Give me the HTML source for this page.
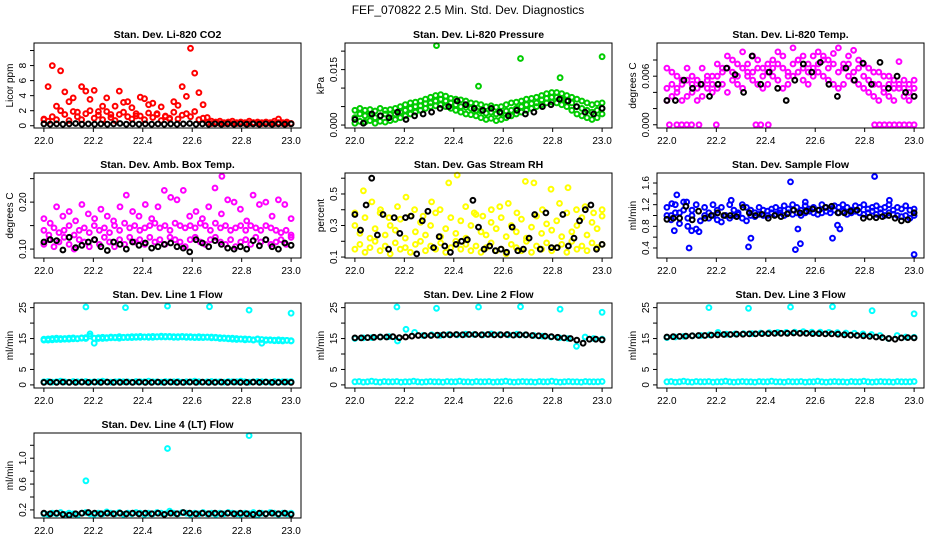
<!DOCTYPE html>
<html><head><meta charset="utf-8">
<style>
html,body{margin:0;padding:0;background:#fff;}
svg{display:block;font-family:"Liberation Sans",sans-serif;}
</style></head>
<body>
<svg id="chart" width="936" height="540" viewBox="0 0 936 540">
<rect x="0" y="0" width="936" height="540" fill="#fff"/>
<text x="468" y="14" text-anchor="middle" font-size="12">FEF_070822  2.5 Min. Std. Dev. Diagnostics</text>
</svg>
<script>
// ---- data ----
const xTicks = [22.0, 22.2, 22.4, 22.6, 22.8, 23.0];
const xTickLabels = ["22.0","22.2","22.4","22.6","22.8","23.0"];

const co2Hi = [0.8,5.2,8.0,2.6,7.3,4.5,3.2,3.7,1.8,5.2, 4.6,3.5,4.7,1.9,2.6,3.7,1.5,2.6,4.6,3.1, 3.2,2.4,1.3,3.8,3.6,2.8,3.0,1.6,2.5,1.2, 0.9,3.2,2.7,5.2,3.9,10.3,7.0,4.4,2.8,1.1, 0.6,0.5,0.6,0.4,0.5,0.6,0.4,0.5,0.4,0.6, 0.4,0.5,0.4,0.5,0.4,0.6,0.9,0.4,0.5,0.3];
const co2Lo = [0.9,0.6,1.2,0.8,2.0,1.5,0.7,1.9,1.2,0.8, 1.6,2.0,1.0,1.4,0.8,1.9,1.1,0.7,1.5,1.8, 1.2,0.9,1.6,1.3,0.8,1.7,1.1,1.5,0.7,1.3, 1.0,1.8,0.9,1.4,1.6,1.2,1.9,0.8,1.0,0.4, 0.3,0.4,0.3,0.3,0.4,0.3,0.3,0.4,0.3,0.3, 0.4,0.3,0.3,0.4,0.3,0.3,0.4,0.3,0.3,0.3];
const co2Blk = [0.25,0.2,0.25,0.2,0.25,0.3,0.2,0.25,0.2,0.25, 0.2,0.25,0.3,0.2,0.25,0.2,0.25,0.2,0.25,0.2, 0.25,0.2,0.25,0.3,0.2,0.25,0.2,0.25,0.2,0.25, 0.2,0.25,0.2,0.25,0.2,0.25,0.2,0.25,0.2,0.25];

const pressLo = [0.0005,0.001,0.0008,0.0012,0.0005,0.001,0.0008,0.0012,0.0015,0.002, 0.0025,0.003,0.0035,0.004,0.0045,0.005,0.0052,0.0055,0.005,0.0045, 0.004,0.0035,0.003,0.0028,0.0025,0.002,0.0015,0.0018,0.0012,0.0015, 0.002,0.0025,0.003,0.0035,0.004,0.0045,0.005,0.0055,0.006,0.0062, 0.006,0.0055,0.005,0.004,0.003,0.0025,0.002,0.0015,0.002,0.003];
const pressMid = [0.002,0.003,0.0025,0.0028,0.002,0.0025,0.003,0.0028,0.003,0.0035, 0.004,0.0045,0.005,0.0052,0.0058,0.006,0.0065,0.007,0.0065,0.006, 0.0055,0.005,0.0048,0.0045,0.004,0.0038,0.0032,0.0035,0.003,0.0032, 0.0038,0.004,0.0045,0.005,0.0055,0.0058,0.006,0.0068,0.0072,0.0075, 0.0075,0.007,0.0065,0.006,0.005,0.0045,0.004,0.0035,0.004,0.0045];
const pressHi = [0.004,0.0045,0.004,0.0042,0.0038,0.0045,0.004,0.0042,0.0045,0.005, 0.0055,0.006,0.0062,0.0065,0.007,0.0075,0.008,0.0082,0.0078,0.0072, 0.007,0.0068,0.0065,0.006,0.0058,0.0055,0.005,0.0052,0.0048,0.005, 0.0055,0.006,0.0062,0.0065,0.007,0.0072,0.0075,0.008,0.0085,0.0088, 0.0088,0.0085,0.008,0.0075,0.007,0.0065,0.006,0.0055,0.0058,0.006];
const pressBlk = [0.0015,0.0005,0.003,0.0025,0.002,0.0035,0.0015,0.0025,0.003,0.0035, 0.0045,0.005,0.0065,0.0055,0.0045,0.004,0.0045,0.0035,0.0025,0.004, 0.003,0.0035,0.005,0.0055,0.007,0.0065,0.005,0.0035,0.003,0.0045];
const pressOutT = [22.33,22.5,22.67,22.83,23.0];
const pressOutV = [0.0215,0.0105,0.018,0.0128,0.0185];

const tempTop = [0.007,0.0065,0.006,0.0055,0.007,0.006,0.0055,0.007,0.006,0.005, 0.0075,0.007,0.0085,0.008,0.0075,0.009,0.0065,0.0085,0.008,0.007, 0.0075,0.008,0.009,0.0085,0.0065,0.0095,0.008,0.0085,0.0075,0.0085, 0.009,0.0085,0.008,0.0088,0.0095,0.0075,0.0085,0.0092,0.008,0.0075, 0.007,0.0065,0.0065,0.006,0.006,0.0055,0.0078,0.0055,0.005,0.0055];
const tempMid = [0.0045,0.005,0.0045,0.005,0.0055,0.005,0.0045,0.005,0.0055,0.006, 0.006,0.0065,0.007,0.0065,0.006,0.007,0.0075,0.0065,0.007,0.006, 0.0065,0.007,0.0075,0.007,0.006,0.0075,0.008,0.007,0.0065,0.007, 0.0075,0.008,0.007,0.0075,0.0065,0.007,0.0075,0.0065,0.007,0.006, 0.0055,0.005,0.005,0.0045,0.005,0.0045,0.005,0.0045,0.004,0.0045];
const tempBot = [0.003,0.0035,0.004,0.003,0.0035,0.004,0.003,0.0035,0.0045,0.004, 0.0045,0.005,0.004,0.0055,0.005,0.0045,0.006,0.0055,0.005,0.0045, 0.005,0.006,0.0055,0.0045,0.005,0.006,0.0065,0.0055,0.005,0.006, 0.0065,0.006,0.0055,0.005,0.0045,0.005,0.006,0.0055,0.005,0.0045, 0.004,0.0035,0.003,0.004,0.0035,0.003,0.0045,0.0035,0.003,0.0035];
const tempZeroT = [22.01,22.04,22.06,22.08,22.1,22.13,22.2,22.36,22.38,22.41,22.84,22.86,22.88,22.9,22.92,22.94,22.96,22.98,23.0];
const tempZeroV = [0,0,0,0,0,0,0,0,0,0,0,0,0,0,0,0,0,0,0];
const tempBlk = [0.003,0.003,0.0055,0.0045,0.005,0.0035,0.005,0.007,0.0062,0.004, 0.0085,0.005,0.0065,0.0045,0.003,0.0055,0.0075,0.0065,0.0077,0.005, 0.0035,0.007,0.0055,0.0076,0.005,0.0077,0.0045,0.006,0.004,0.0035];

const ambA = [0.14,0.13,0.145,0.135,0.14,0.15,0.13,0.14,0.145,0.135, 0.15,0.14,0.145,0.135,0.15,0.14,0.155,0.145,0.15,0.14, 0.145,0.15,0.155,0.145,0.15,0.14,0.155,0.15,0.145,0.15, 0.145,0.155,0.15,0.14,0.155,0.145,0.15,0.14,0.145,0.15, 0.14,0.15,0.145,0.14,0.15,0.145,0.14,0.135,0.14,0.13];
const ambB = [0.11,0.12,0.105,0.115,0.125,0.11,0.1,0.12,0.115,0.105, 0.12,0.11,0.125,0.115,0.105,0.12,0.11,0.125,0.115,0.12, 0.11,0.125,0.115,0.12,0.11,0.125,0.12,0.115,0.105,0.12, 0.125,0.115,0.11,0.12,0.125,0.115,0.11,0.12,0.105,0.115, 0.12,0.11,0.125,0.115,0.12,0.11,0.115,0.12,0.11,0.125];
const ambC = [0.165,0.155,0.19,0.17,0.18,0.16,0.195,0.175,0.165,0.185, 0.17,0.16,0.19,0.215,0.18,0.17,0.195,0.165,0.19,0.225, 0.21,0.205,0.225,0.17,0.18,0.165,0.19,0.23,0.175,0.205, 0.2,0.185,0.16,0.215,0.195,0.2,0.17,0.205,0.195,0.165];
const ambOutT = [22.72];
const ambOutV = [0.255];
const ambBlk = [0.115,0.12,0.118,0.098,0.125,0.103,0.108,0.115,0.12,0.105, 0.097,0.115,0.11,0.1,0.115,0.108,0.113,0.102,0.105,0.11, 0.113,0.105,0.102,0.094,0.12,0.113,0.105,0.118,0.11,0.102, 0.1,0.105,0.1,0.118,0.107,0.12,0.105,0.1,0.113,0.108];

const rhA = [0.15,0.18,0.13,0.16,0.2,0.14,0.17,0.12,0.19,0.15, 0.16,0.13,0.18,0.2,0.14,0.17,0.15,0.19,0.13,0.16, 0.2,0.15,0.18,0.14,0.17,0.13,0.16,0.19,0.14,0.15, 0.12,0.18,0.16,0.14,0.2,0.13,0.17,0.15,0.19,0.14, 0.16,0.18,0.13,0.2,0.15,0.17,0.14,0.19,0.16,0.18];
const rhB = [0.3,0.25,0.35,0.22,0.28,0.38,0.24,0.3,0.27,0.34, 0.22,0.36,0.26,0.32,0.24,0.3,0.38,0.23,0.28,0.35, 0.25,0.33,0.22,0.3,0.37,0.26,0.24,0.32,0.28,0.35, 0.23,0.3,0.26,0.34,0.22,0.29,0.36,0.25,0.31,0.27, 0.33,0.23,0.38,0.26,0.3,0.35,0.24,0.32,0.28,0.36];
const rhC = [0.38,0.52,0.45,0.4,0.35,0.42,0.48,0.4,0.36,0.45, 0.4,0.57,0.62,0.42,0.38,0.36,0.4,0.42,0.44,0.38, 0.58,0.57,0.4,0.53,0.44,0.54,0.4,0.42,0.38,0.4];
const rhBlk = [0.37,0.27,0.43,0.6,0.24,0.37,0.15,0.35,0.25,0.35, 0.36,0.12,0.33,0.39,0.16,0.23,0.17,0.13,0.18,0.2, 0.21,0.46,0.29,0.15,0.17,0.14,0.15,0.13,0.29,0.14, 0.15,0.22,0.37,0.15,0.38,0.16,0.16,0.37,0.17,0.22, 0.33,0.4,0.43,0.15,0.18];

const flowA = [1.15,1.0,1.2,1.05,1.25,0.95,1.1,1.2,0.9,1.15, 1.05,1.2,1.1,1.15,1.0,1.2,1.1,1.05,1.2,1.15, 1.1,1.05,1.15,1.1,1.08,1.12,1.15,1.1,1.18,1.12, 1.2,1.15,1.1,1.18,1.12,1.15,1.1,1.2,1.15,1.12, 1.18,1.15,1.2,1.15,1.1,1.18,1.15,1.2,1.12,1.15, 1.18,1.12,1.15,1.2,1.1,1.15,1.12,1.18,1.1,1.12];
const flowB = [1.0,0.92,1.05,0.85,1.1,0.8,1.0,0.75,0.9,1.0, 0.95,1.0,0.92,0.88,1.0,0.95,1.0,1.02,0.95,0.9, 1.0,0.98,1.02,1.0,1.0,1.05,1.02,1.05,1.0,1.05, 1.02,1.05,1.0,1.05,1.08,1.05,1.02,1.05,1.08,1.05, 1.1,1.05,1.08,1.02,1.05,1.08,1.05,1.02,1.05,1.08, 1.02,1.05,1.0,1.05,1.02,1.0,0.98,1.0,0.95,1.0];
const flowOutT = [22.02,22.03,22.04,22.09,22.08,22.1,22.13,22.26,22.33,22.34,22.5,22.52,22.53,22.54,22.56,22.67,22.69,22.7,22.84,22.9,23.0];
const flowOutV = [1.22,0.72,1.38,0.4,1.25,0.72,0.7,1.28,0.42,0.58,1.62,0.37,0.75,0.48,1.25,0.58,0.82,0.75,1.72,1.28,0.28];
const flowBlk = [0.93,0.95,0.95,1.17,0.92,1.08,0.95,1.0,1.05,1.0, 1.0,0.98,1.15,1.05,1.0,1.02,0.95,1.0,0.98,1.03, 1.1,1.05,1.08,1.12,1.1,1.15,1.17,1.05,1.05,1.08, 1.1,0.95,0.97,0.96,0.98,1.0,0.95,0.9,0.92,1.05];

const l1Band = [14.8,14.5,15.0,14.7,15.0,14.8,15.1,14.9,15.0,15.2, 15.0,16.5,13.5,15.3,15.0,15.3,15.2,15.4,15.1,15.3, 15.5,15.3,15.6,15.4,15.5,15.6,15.4,15.6,15.5,15.7, 15.5,15.6,15.4,15.5,15.6,15.4,15.5,15.3,15.5,15.4, 15.5,15.2,15.3,15.0,15.1,14.8,15.0,14.8,14.9,14.7, 14.6,14.8,13.5,14.6,14.4,14.5,14.3,14.5,14.4,14.3];
const l1Band2 = [14.5,14.9,14.6,15.1,14.7,15.0,14.8,15.2,14.9,15.1, 15.3,15.8,15.1,15.0,15.4,15.1,15.5,15.2,15.6,15.4, 15.3,15.6,15.4,15.7,15.5,15.4,15.7,15.5,15.8,15.5, 15.7,15.4,15.6,15.7,15.4,15.6,15.3,15.6,15.3,15.5, 15.2,15.4,15.0,15.2,14.9,15.1,14.7,14.9,14.6,14.8, 14.5,14.9,14.7,14.4,14.6,14.3,14.6,14.2,14.4,14.2];
const l1Low = [1.0,1.1,0.9,1.0,1.2,1.0,0.9,1.1,1.0,1.0, 1.1,0.9,1.0,1.0,1.2,1.0,0.9,1.0,1.1,1.0, 1.0,0.9,1.1,1.0,1.0,1.2,1.0,1.0,0.9,1.1, 1.0,1.0,1.1,0.9,1.0,1.0,1.2,1.0,0.9,1.0, 1.1,1.0,1.0,0.9,1.1,1.0,1.0,1.2,1.0,0.9, 1.0,1.1,1.0,1.0,0.9,1.1,1.0,1.0,1.0,1.1];
const l1Blk = [0.8,0.9,0.8,0.9,0.8,0.8,0.9,0.8,0.9,0.8, 0.9,0.8,0.8,0.9,0.8,0.9,0.8,0.8,0.9,0.8, 0.9,0.8,0.8,0.9,0.8,0.9,0.8,0.8,0.9,0.8, 0.9,0.8,0.8,0.9,0.8,0.9,0.8,0.8,0.9,0.8];
const l1OutT = [22.17,22.33,22.5,22.67,22.83,23.0];
const l1OutV = [25.2,25.0,25.5,25.3,24.2,23.2];

const l2Low = [1.0,1.1,0.9,1.0,1.2,1.0,0.9,1.1,1.0,1.0, 1.1,0.9,1.0,1.0,1.2,1.0,0.9,1.0,1.1,1.0, 1.0,0.9,1.1,1.0,1.0,1.2,1.0,1.0,0.9,1.1, 1.0,1.0,1.1,0.9,1.0,1.0,1.2,1.0,0.9,1.0, 1.1,1.0,1.0,0.9,1.1,1.0,1.0,1.2,1.0,0.9, 1.0,1.1,1.0,1.0,0.9,1.1,1.0,1.0,1.0,1.1];
const l2Cy = [15.0,15.2,15.3,15.5,15.6,14.2,18.0,17.0,16.0,16.2, 16.0,16.3,16.2,16.4,16.3,16.2,16.5,16.3,16.2,16.4, 16.2,16.0,15.8,15.5,15.2,15.0,12.5,15.5,15.0,14.8];
const l2Blk = [15.2,15.2,15.3,15.4,15.5,15.5,15.6,15.3,15.5,15.8, 16.0,16.0,16.0,16.1,16.2,16.2,16.3,16.2,16.3,16.3, 16.2,16.3,16.2,16.2,16.3,16.1,16.2,16.2,16.0,15.9, 15.8,15.6,15.4,15.2,15.0,14.5,13.5,14.8,14.8,14.6];
const l2OutT = [22.17,22.33,22.5,22.67,22.83,23.0];
const l2OutV = [25.2,24.8,25.2,25.3,24.5,23.5];

const l3Low = [1.0,1.1,0.9,1.0,1.2,1.0,0.9,1.1,1.0,1.0, 1.1,0.9,1.0,1.0,1.2,1.0,0.9,1.0,1.1,1.0, 1.0,0.9,1.1,1.0,1.0,1.2,1.0,1.0,0.9,1.1, 1.0,1.0,1.1,0.9,1.0,1.0,1.2,1.0,0.9,1.0, 1.1,1.0,1.0,0.9,1.1,1.0,1.0,1.2,1.0,0.9, 1.0,1.1,1.0,1.0,0.9,1.1,1.0,1.0,1.0,1.1];
const l3Cy = [15.3,15.5,15.7,15.9,16.0,16.2,17.0,16.4,16.5,16.6, 16.6,16.8,16.9,17.0,17.0,17.1,17.2,17.1,17.1,17.0, 16.9,16.8,16.7,16.5,16.3,16.0,15.0,16.0,15.5,15.4];
const l3Blk = [15.5,15.6,15.7,15.8,15.9,16.0,16.0,16.1,16.2,16.3, 16.3,16.4,16.4,16.5,16.5,16.6,16.6,16.7,16.7,16.7, 16.8,16.7,16.7,16.6,16.6,16.5,16.5,16.4,16.2,16.1, 16.0,15.9,15.7,15.5,15.3,15.0,14.8,15.2,15.3,15.2];
const l3OutT = [22.17,22.33,22.5,22.67,22.83,23.0];
const l3OutV = [25.0,24.8,25.2,25.3,24.0,23.0];

const l4Cy = [0.14,0.13,0.15,0.14,0.16,0.13,0.15,0.14,0.12,0.15, 0.16,0.14,0.13,0.15,0.14,0.17,0.15,0.14,0.16,0.13, 0.15,0.14,0.16,0.15,0.13,0.15,0.14,0.16,0.15,0.14, 0.18,0.15,0.14,0.16,0.15,0.13,0.15,0.14,0.16,0.14, 0.15,0.13,0.15,0.14,0.16,0.15,0.14,0.13,0.15,0.14, 0.16,0.12,0.15,0.14,0.16,0.15,0.13,0.15,0.14,0.15];
const l4Blk = [0.15,0.14,0.15,0.13,0.12,0.14,0.15,0.16,0.15,0.14, 0.15,0.14,0.15,0.14,0.15,0.14,0.15,0.14,0.15,0.13, 0.15,0.14,0.16,0.15,0.14,0.15,0.14,0.15,0.14,0.15, 0.14,0.15,0.14,0.13,0.15,0.14,0.15,0.14,0.15,0.13];
const l4OutT = [22.17,22.5,22.83];
const l4OutV = [0.65,1.15,1.35];

// ---- rendering ----
const NS = "http://www.w3.org/2000/svg";
const svg = document.getElementById("chart");
const colL = [34, 345, 657], rowT = [43, 173, 303, 433], PW = 267, PH = 85;
const XMIN = 21.96, XMAX = 23.04;

function mk(tag, attrs, parent) {
  const e = document.createElementNS(NS, tag);
  for (const k in attrs) e.setAttribute(k, attrs[k]);
  parent.appendChild(e);
  return e;
}
function even(arr) { // times of evenly spaced samples over the hour 22.0-23.0
  const t = []; const n = arr.length;
  for (let i = 0; i < n; i++) t.push(22 + (n > 1 ? i / (n - 1) : 0));
  return t;
}

const panels = [
  {name:"co2", title:"Stan. Dev. Li-820 CO2", ylab:"Licor ppm", r:0, c:0, dom:[-0.3,11.0],
   ticks:[0,2,4,6,8,10], labels:["0","2","4","6","8",""],
   series:[{v:co2Lo,c:"#ff0000"},{v:co2Hi,c:"#ff0000"},{v:co2Blk,c:"#000"}]},
  {name:"pressure", title:"Stan. Dev. Li-820 Pressure", ylab:"kPa", r:0, c:1, dom:[-0.0008,0.0222],
   ticks:[0,0.005,0.01,0.015,0.02], labels:["0.000","","","0.015",""],
   series:[{v:pressLo,c:"#00cc00"},{v:pressHi,c:"#00cc00"},{v:pressMid,c:"#00cc00"},{t:pressOutT,v:pressOutV,c:"#00cc00"},{v:pressBlk,c:"#000"}]},
  {name:"temp", title:"Stan. Dev. Li-820 Temp.", ylab:"degrees C", r:0, c:2, dom:[-0.0004,0.0101],
   ticks:[0,0.002,0.004,0.006,0.008], labels:["0.000","","","0.006",""],
   series:[{v:tempBot,c:"#ff00ff"},{v:tempMid,c:"#ff00ff"},{v:tempTop,c:"#ff00ff"},{t:tempZeroT,v:tempZeroV,c:"#ff00ff"},{v:tempBlk,c:"#000"}]},
  {name:"amb-box-temp", title:"Stan. Dev. Amb. Box Temp.", ylab:"degrees C", r:1, c:0, dom:[0.081,0.262],
   ticks:[0.1,0.15,0.2,0.25], labels:["0.10","","0.20",""],
   series:[{v:ambB,c:"#ff00ff"},{v:ambA,c:"#ff00ff"},{v:ambC,c:"#ff00ff"},{t:ambOutT,v:ambOutV,c:"#ff00ff"},{v:ambBlk,c:"#000"}]},
  {name:"gas-rh", title:"Stan. Dev. Gas Stream RH", ylab:"percent", r:1, c:1, dom:[0.094,0.633],
   ticks:[0.1,0.2,0.3,0.4,0.5,0.6], labels:["0.1","","0.3","","0.5",""],
   series:[{v:rhA,c:"#ffff00"},{v:rhB,c:"#ffff00"},{v:rhC,c:"#ffff00"},{v:rhBlk,c:"#000"}]},
  {name:"sample-flow", title:"Stan. Dev. Sample Flow", ylab:"ml/min", r:1, c:2, dom:[0.215,1.785],
   ticks:[0.4,0.6,0.8,1.0,1.2,1.4,1.6], labels:["0.4","","0.8","","1.2","","1.6"],
   series:[{v:flowB,c:"#0000ff"},{v:flowA,c:"#0000ff"},{t:flowOutT,v:flowOutV,c:"#0000ff"},{v:flowBlk,c:"#000"}]},
  {name:"line1-flow", title:"Stan. Dev. Line 1 Flow", ylab:"ml/min", r:2, c:0, dom:[-1,26.5],
   ticks:[0,5,10,15,20,25], labels:["0","5","","15","","25"],
   series:[{v:l1Band,c:"#00ffff"},{v:l1Band2,c:"#00ffff"},{v:l1Low,c:"#00ffff"},{t:l1OutT,v:l1OutV,c:"#00ffff"},{v:l1Blk,c:"#000"}]},
  {name:"line2-flow", title:"Stan. Dev. Line 2 Flow", ylab:"ml/min", r:2, c:1, dom:[-1,26.5],
   ticks:[0,5,10,15,20,25], labels:["0","5","","15","","25"],
   series:[{v:l2Low,c:"#00ffff"},{v:l2Cy,c:"#00ffff"},{t:l2OutT,v:l2OutV,c:"#00ffff"},{v:l2Blk,c:"#000"}]},
  {name:"line3-flow", title:"Stan. Dev. Line 3 Flow", ylab:"ml/min", r:2, c:2, dom:[-1,26.5],
   ticks:[0,5,10,15,20,25], labels:["0","5","","15","","25"],
   series:[{v:l3Low,c:"#00ffff"},{v:l3Cy,c:"#00ffff"},{t:l3OutT,v:l3OutV,c:"#00ffff"},{v:l3Blk,c:"#000"}]},
  {name:"line4-flow", title:"Stan. Dev. Line 4 (LT) Flow", ylab:"ml/min", r:3, c:0, dom:[0.075,1.39],
   ticks:[0.2,0.4,0.6,0.8,1.0,1.2], labels:["0.2","","0.6","","1.0",""],
   series:[{v:l4Cy,c:"#00ffff"},{t:l4OutT,v:l4OutV,c:"#00ffff"},{v:l4Blk,c:"#000"}]}
];

panels.forEach(p => {
  const L = colL[p.c], T = rowT[p.r];
  const g = mk("g", {}, svg);
  
  
  const xs = v => L + (v - XMIN) / (XMAX - XMIN) * PW;
  const ys = v => T + PH - (v - p.dom[0]) / (p.dom[1] - p.dom[0]) * PH;

  const title = mk("text", {x: L + PW/2, y: T - 5, "text-anchor":"middle", "font-size":"10.5", "font-weight":"bold"}, g);
  
  
  title.textContent = p.title;

  const pts = mk("g", {fill:"none", "stroke-width":"2"}, g);
  
  
  p.series.forEach(s => {
    const times = s.t || even(s.v);
    s.v.forEach((v, i) => {
      const cx = xs(times[i]), cy = ys(v);
      const c = mk("circle", {cx: cx.toFixed(1), cy: cy.toFixed(1), r: "2.4", stroke: s.c}, pts);
      
      
    });
  });

  const fr = mk("rect", {x: L, y: T, width: PW, height: PH, fill:"none", stroke:"#000", "stroke-width":"1"}, g);
  
  

  xTicks.forEach((v, i) => {
    const x = xs(v);
    const tk = mk("line", {x1:x, x2:x, y1:T+PH, y2:T+PH+4, stroke:"#000"}, g);
    
    
    const tl = mk("text", {x:x, y:T+PH+16, "text-anchor":"middle", "font-size":"10"}, g);
    
    
    tl.textContent = xTickLabels[i];
  });
  p.ticks.forEach((v, i) => {
    const y = ys(v);
    if (y < T - 0.5 || y > T + PH + 0.5) return;
    const tk = mk("line", {x1:L-4, x2:L, y1:y, y2:y, stroke:"#000"}, g);
    
    
    if (p.labels[i]) {
      const tl = mk("text", {x:0, y:0, "text-anchor":"middle", "font-size":"10", transform:`translate(${L-8},${y.toFixed(1)}) rotate(-90)`}, g);
      
      
      tl.textContent = p.labels[i];
    }
  });
  const yl = mk("text", {x:0, y:0, "text-anchor":"middle", "font-size":"10", transform:`translate(${L-21},${T+PH/2}) rotate(-90)`}, g);
  
  
  yl.textContent = p.ylab;
});
</script>
</body></html>
